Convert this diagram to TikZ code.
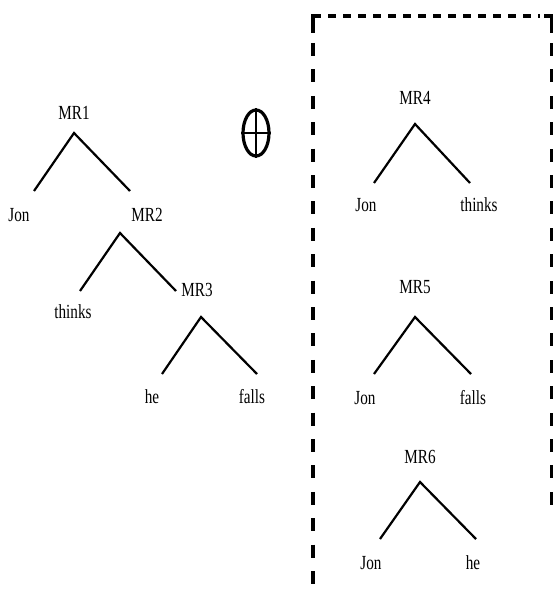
\documentclass[tikz,border=0pt]{standalone}
\usepackage{fontspec}
\setmainfont{Liberation Serif}[FakeStretch=0.76]
\usepackage{tikz}
\usetikzlibrary{positioning}
\usetikzlibrary{shapes.geometric}

\begin{document}
\begin{tikzpicture}[x=1pt, y=-1pt, every node/.style={inner sep=0pt, font=\fontsize{20}{23}\selectfont},
    branch/.style={line width=2.2pt},
    boxline/.style={line width=3.2pt}]

                \useasboundingbox (0,0) rectangle (553,594);

                % Left tree
                \node at (74,113) (mr1) {MR1};
                \node at (19,215) (jon1) {Jon};
                \node at (147,215) (mr2) {MR2};
                \node at (73,312) (thinks1) {thinks};
                \node at (197,290) (mr3) {MR3};
                \node at (152,397) (he1) {he};
                \node at (252,397) (falls1) {falls};

                % Oplus
                \node at (256,133) (oplus) [draw, ellipse, line width=3.2pt, minimum width=26, minimum height=46] {};
                \draw[line width=2.2pt] (oplus.north) -- (oplus.south);
                \draw[line width=2.2pt] (oplus.west) -- (oplus.east);

                % Right trees
                \node at (415,98) (mr4) {MR4};
                \node at (366,205) (jon4) {Jon};
                \node at (479,205) (thinks4) {thinks};
                \node at (415,287) (mr5) {MR5};
                \node at (365,398) (jon5) {Jon};
                \node at (473,398) (falls5) {falls};
                \node at (420,457) (mr6) {MR6};
                \node at (371,563) (jon6) {Jon};
                \node at (473,563) (he6) {he};

                % Branches
                \draw[branch] ([shift={(15,-24)}]jon1.center) -- ([shift={(0,20)}]mr1.center) -- ([shift={(-17,-24)}]mr2.center);
                \draw[branch] ([shift={(7,-21)}]thinks1.center) -- ([shift={(-27,18)}]mr2.center) -- ([shift={(-21,1)}]mr3.center);
                \draw[branch] ([shift={(10,-23)}]he1.center) -- ([shift={(4,27)}]mr3.center) -- ([shift={(5,-23)}]falls1.center);
                \draw[branch] ([shift={(8,-22)}]jon4.center) -- ([shift={(0,26)}]mr4.center) -- ([shift={(-9,-22)}]thinks4.center);
                \draw[branch] ([shift={(9,-24)}]jon5.center) -- ([shift={(0,30)}]mr5.center) -- ([shift={(-2,-24)}]falls5.center);
                \draw[branch] ([shift={(9,-24)}]jon6.center) -- ([shift={(0,25)}]mr6.center) -- ([shift={(3,-24)}]he6.center);

                % Dashed box
                \draw[boxline] (313,33) -- (313,16) -- (321,16);
                \draw[boxline] (544,16) -- (552,16) -- (552,33);
                \draw[boxline, dash pattern=on 8pt off 7pt] (328,16) -- (540,16);
                \draw[boxline, dash pattern=on 13pt off 13.4pt] (313,43) -- (313,586);
                \draw[boxline, dash pattern=on 13pt off 13.4pt] (552,43) -- (552,505);

            \end{tikzpicture}
\end{document}
